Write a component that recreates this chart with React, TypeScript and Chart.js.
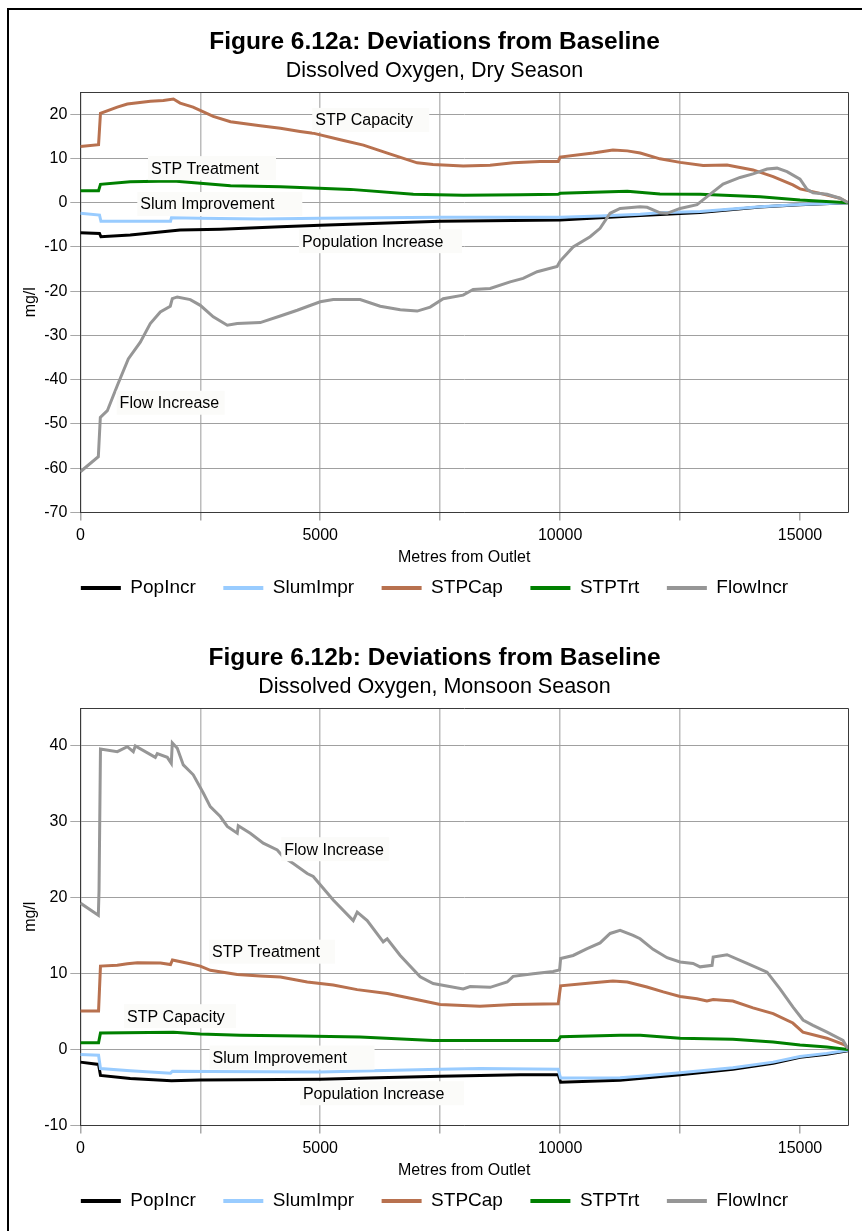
import React, { useEffect, useRef } from "react";
import { Chart, registerables } from "chart.js";
Chart.register(...registerables);

const FONT = '"Liberation Sans", Arial, Helvetica, sans-serif';

const SERIES_NAMES = ["PopIncr", "SlumImpr", "STPCap", "STPTrt", "FlowIncr"];
const SERIES_COLORS = ["#000000", "#99CCFF", "#B8714F", "#008000", "#969696"];
const SERIES_DRAW_ORDER = [5, 4, 3, 2, 1];

const X_MIN = 0;
const X_MAX = 16000;
const X_TICKS = [0, 2500, 5000, 7500, 10000, 12500, 15000];
const X_TICK_LABELS = ["0", "", "5000", "", "10000", "", "15000"];
const X_NO_GRID = 15000;

const X_TITLE = "Metres from Outlet";
const Y_TITLE = "mg/l";

// ---------- Figure 6.12a : Dry season ----------
const DRY_TITLE = "Figure 6.12a: Deviations from Baseline";
const DRY_SUBTITLE = "Dissolved Oxygen, Dry Season";
const DRY_Y_MIN = -70;
const DRY_Y_MAX = 25;
const DRY_Y_TICKS = [-70, -60, -50, -40, -30, -20, -10, 0, 10, 20];

const dryPopIncr = [[0,-6.8],[400,-6.95],[430,-7.7],[1040,-7.3],[2080,-6.2],[2920,-6.0],[4170,-5.45],[5000,-5.1],[7500,-4.2],[10000,-3.9],[11670,-2.9],[12920,-2.2],[14170,-1.0],[15000,-0.5],[16000,0]];
const drySlumImpr = [[0,-2.4],[400,-2.8],[430,-4.2],[1880,-4.2],[1900,-3.4],[2500,-3.5],[3750,-3.7],[5000,-3.55],[7500,-3.3],[10000,-3.3],[10830,-3.0],[11670,-2.6],[12080,-2.3],[12920,-2.0],[14170,-0.9],[15000,-0.4],[16000,0]];
const drySTPCap = [[0,12.7],[380,13.1],[420,20.2],[770,21.6],[980,22.3],[1460,22.9],[1730,23.1],[1940,23.4],[2080,22.5],[2350,21.6],[2770,19.5],[3130,18.3],[3750,17.4],[4170,16.8],[4580,16.1],[4850,15.7],[5420,14.2],[5900,13.0],[6400,11.2],[7020,9.0],[7350,8.6],[7980,8.3],[8540,8.45],[9020,9.0],[9580,9.3],[9960,9.3],[10000,10.3],[10690,11.2],[11100,11.9],[11400,11.7],[11670,11.2],[12080,9.9],[12500,9.1],[12980,8.4],[13480,8.5],[14020,7.4],[14440,5.9],[14850,4.0],[15000,3.1],[15420,2.1],[15830,1.0],[16000,0]];
const drySTPTrt = [[0,2.7],[380,2.7],[420,4.15],[1040,4.7],[1940,4.9],[2500,4.4],[3130,3.8],[4170,3.6],[4580,3.4],[5630,3.0],[6940,1.9],[7980,1.65],[9170,1.8],[9960,1.9],[10000,2.1],[11400,2.6],[12080,1.95],[12920,1.9],[14170,1.35],[15000,0.6],[16000,0]];
const dryFlowIncr = [[0,-60.8],[375,-57.4],[417,-48.5],[563,-47.0],[771,-41.3],[1000,-35.3],[1250,-31.5],[1458,-27.3],[1667,-24.7],[1875,-23.4],[1917,-21.7],[2021,-21.3],[2292,-21.9],[2500,-23.2],[2771,-25.8],[3063,-27.7],[3271,-27.3],[3750,-27.1],[4167,-25.6],[4521,-24.3],[5000,-22.4],[5271,-21.9],[5833,-21.9],[6250,-23.4],[6667,-24.2],[7021,-24.5],[7292,-23.6],[7563,-21.7],[7979,-20.9],[8188,-19.6],[8542,-19.4],[8958,-17.9],[9229,-17.1],[9521,-15.6],[9938,-14.4],[10000,-13.2],[10146,-11.5],[10271,-10.0],[10625,-7.7],[10833,-5.8],[11042,-2.4],[11250,-1.3],[11667,-0.9],[11813,-1.05],[12083,-2.3],[12229,-2.4],[12500,-1.3],[12854,-0.45],[13063,1.35],[13396,4.2],[13750,5.7],[14021,6.5],[14313,7.6],[14521,7.8],[14729,7.0],[15000,5.3],[15146,3.0],[15271,2.25],[15563,1.9],[15833,1.0],[16000,0]];

const DRY_LABELS = [
  { text: "STP Capacity", x: 4896, y: 18.7, w: 117 },
  { text: "STP Treatment", x: 1473, y: 7.8, w: 128 },
  { text: "Slum Improvement", x: 1250, y: -0.3, w: 165 },
  { text: "Population Increase", x: 4619, y: -8.7, w: 163 },
  { text: "Flow Increase", x: 819, y: -45.2, w: 108 },
];

// ---------- Figure 6.12b : Monsoon season ----------
const WET_TITLE = "Figure 6.12b: Deviations from Baseline";
const WET_SUBTITLE = "Dissolved Oxygen, Monsoon Season";
const WET_Y_MIN = -10;
const WET_Y_MAX = 45;
const WET_Y_TICKS = [-10, 0, 10, 20, 30, 40];

const wetPopIncr = [[0,-1.65],[380,-1.95],[420,-3.4],[1040,-3.8],[1900,-4.1],[2500,-4.0],[5000,-3.9],[6000,-3.75],[7500,-3.5],[9170,-3.3],[9960,-3.3],[10010,-4.3],[11250,-4.05],[12500,-3.3],[13600,-2.6],[14440,-1.8],[15000,-1.0],[15560,-0.6],[16000,-0.15]];
const wetSlumImpr = [[0,-0.65],[380,-0.75],[420,-2.5],[1040,-2.8],[1880,-3.1],[1920,-2.85],[2710,-2.9],[5000,-2.95],[6100,-2.8],[7500,-2.6],[8330,-2.5],[9960,-2.6],[10010,-3.75],[11250,-3.7],[11670,-3.5],[12500,-3.05],[13600,-2.4],[14440,-1.65],[15000,-0.9],[15560,-0.5],[16000,-0.1]];
const wetSTPCap = [[0,5.1],[380,5.1],[420,11.0],[770,11.1],[980,11.3],[1190,11.45],[1670,11.4],[1880,11.2],[1920,11.8],[2290,11.3],[2500,11.0],[2710,10.45],[3270,9.9],[3750,9.7],[4170,9.55],[4730,8.9],[5270,8.5],[5770,7.9],[6400,7.4],[7080,6.5],[7500,5.95],[8330,5.7],[9020,5.95],[9960,6.05],[10010,8.4],[10690,8.8],[11100,9.05],[11400,8.9],[11810,8.25],[12150,7.6],[12500,7.0],[12850,6.7],[13060,6.4],[13190,6.6],[13600,6.4],[14020,5.5],[14440,4.75],[14850,3.5],[15060,2.3],[15560,1.5],[15940,0.6],[16000,0.1]];
const wetSTPTrt = [[0,0.9],[380,0.9],[420,2.2],[1940,2.3],[2500,2.05],[3330,1.9],[4580,1.8],[5830,1.65],[7350,1.2],[9170,1.2],[9960,1.2],[10010,1.7],[11250,1.9],[11670,1.9],[12500,1.5],[13600,1.35],[14440,1.0],[15000,0.6],[15560,0.35],[16000,0]];
const wetFlowIncr = [[0,19.3],[375,17.7],[390,21.0],[420,39.6],[771,39.25],[979,39.9],[1104,39.25],[1146,40.0],[1563,38.5],[1604,39.0],[1813,38.5],[1896,37.7],[1917,40.4],[2021,39.7],[2146,37.5],[2354,36.2],[2563,33.8],[2708,32.0],[2917,30.7],[3063,29.4],[3271,28.5],[3292,29.5],[3542,28.5],[3813,27.2],[4104,26.3],[4229,25.4],[4438,24.5],[4729,23.2],[4854,22.8],[5271,19.7],[5688,17.0],[5771,18.1],[5979,17.0],[6313,14.2],[6396,14.6],[6667,12.4],[7083,9.6],[7354,8.7],[7979,8.0],[8125,8.3],[8542,8.2],[8896,8.9],[9021,9.65],[9438,10.0],[9854,10.3],[9990,10.5],[10010,12.0],[10271,12.4],[10563,13.3],[10833,14.05],[11042,15.3],[11250,15.7],[11521,15.05],[11667,14.6],[11938,13.2],[12229,12.1],[12500,11.55],[12771,11.35],[12917,10.9],[13167,11.1],[13190,12.2],[13479,12.5],[13896,11.35],[14313,10.2],[14583,8.0],[14854,5.6],[15063,3.9],[15271,3.2],[15563,2.3],[15896,1.2],[16000,0.1]];

const WET_LABELS = [
  { text: "Flow Increase", x: 4250, y: 26.4, w: 108 },
  { text: "STP Treatment", x: 2744, y: 12.9, w: 126 },
  { text: "STP Capacity", x: 973, y: 4.4, w: 112 },
  { text: "Slum Improvement", x: 2756, y: -1.05, w: 165 },
  { text: "Population Increase", x: 4640, y: -5.75, w: 164 },
];

const labelPlugin = {
  id: "seriesLabels",
  afterDatasetsDraw(chart: any, _args: any, opts: any) {
    const { ctx } = chart;
    const xs = chart.scales.x;
    const ys = chart.scales.y;
    ctx.save();
    ctx.font = `16px ${FONT}`;
    ctx.textBaseline = "middle";
    ctx.textAlign = "left";
    for (const l of opts.items || []) {
      const px = xs.getPixelForValue(l.x);
      const py = ys.getPixelForValue(l.y);
      ctx.fillStyle = "#fbfbf9";
      ctx.fillRect(px - 3, py - 12, l.w, 24);
      ctx.fillStyle = "#000";
      ctx.fillText(l.text, px, py + 1);
    }
    ctx.restore();
  },
};

const framePlugin = {
  id: "plotFrame",
  afterDatasetsDraw(chart: any) {
    const { ctx, chartArea } = chart;
    ctx.save();
    ctx.strokeStyle = "#3a3a3a";
    ctx.lineWidth = 1;
    ctx.beginPath();
    ctx.moveTo(chartArea.left, chartArea.top + 0.5);
    ctx.lineTo(chartArea.right + 0.5, chartArea.top + 0.5);
    ctx.lineTo(chartArea.right + 0.5, chartArea.bottom);
    ctx.stroke();
    ctx.restore();
  },
};

type Panel = {
  title: string;
  subtitle: string;
  yMin: number;
  yMax: number;
  yTicks: number[];
  series: number[][][];
  labels: { text: string; x: number; y: number; w: number }[];
  width: number;
  height: number;
};

function ChartPanel(p: Panel) {
  const ref = useRef<HTMLCanvasElement | null>(null);
  useEffect(() => {
    if (!ref.current) return;
    const datasets = SERIES_NAMES.map((name, i) => ({
      label: name,
      data: p.series[i].map(([x, y]) => ({ x, y })),
      borderColor: SERIES_COLORS[i],
      backgroundColor: SERIES_COLORS[i],
      borderWidth: 3,
      pointRadius: 0,
      tension: 0,
      fill: false,
      order: SERIES_DRAW_ORDER[i],
    }));
    const chart = new Chart(ref.current, {
      type: "line",
      data: { datasets },
      plugins: [labelPlugin, framePlugin],
      options: {
        animation: false,
        responsive: false,
        devicePixelRatio: 1,
        layout: { padding: { left: 12, right: 25, top: 0, bottom: 12.5 } },
        scales: {
          x: {
            type: "linear",
            min: X_MIN,
            max: X_MAX,
            afterBuildTicks: (s: any) => {
              s.ticks = X_TICKS.map((v) => ({ value: v }));
            },
            ticks: {
              autoSkip: false,
              maxRotation: 0,
              padding: 5,
              color: "#000",
              font: { size: 16, family: FONT },
              callback: (_v: any, i: number) => X_TICK_LABELS[i],
            },
            grid: {
              color: (c: any) => (c.tick && c.tick.value === X_NO_GRID ? "rgba(0,0,0,0)" : "#bcbcbc"),
              lineWidth: 1.5,
              tickColor: "#a8a8a8",
              tickLength: 8,
            },
            border: { color: "#3a3a3a", width: 1 },
            title: {
              display: true,
              text: X_TITLE,
              color: "#000",
              font: { size: 16, family: FONT },
              padding: { top: -2.1, bottom: -15.8 },
            },
          },
          y: {
            type: "linear",
            min: p.yMin,
            max: p.yMax,
            afterBuildTicks: (s: any) => {
              s.ticks = p.yTicks.map((v) => ({ value: v }));
            },
            ticks: {
              padding: 3,
              color: "#000",
              font: { size: 16, family: FONT },
              callback: (v: any) => String(v),
            },
            grid: {
              color: "#a0a0a0",
              lineWidth: 1,
              tickColor: "#a8a8a8",
              tickLength: 10,
            },
            border: { color: "#3a3a3a", width: 1 },
            title: {
              display: true,
              text: Y_TITLE,
              color: "#000",
              font: { size: 16, family: FONT },
              padding: { top: 0, bottom: 1 },
            },
          },
        },
        plugins: {
          title: {
            display: true,
            text: p.title,
            color: "#000",
            font: { size: 24.5, weight: "bold", family: FONT },
            padding: { top: 17.4, bottom: 0 },
          },
          subtitle: {
            display: true,
            text: p.subtitle,
            color: "#000",
            font: { size: 21.5, family: FONT },
            padding: { top: 1.3, bottom: 8.1 },
          },
          legend: {
            position: "bottom",
            labels: {
              color: "#000",
              font: { size: 19, family: FONT },
              boxWidth: 40,
              boxHeight: 4,
              padding: 27.5,
              generateLabels: (chart: any) =>
                Chart.defaults.plugins.legend.labels
                  .generateLabels(chart)
                  .map((l: any) => ({ ...l, lineWidth: 0, strokeStyle: l.fillStyle }))
                  .sort((a: any, b: any) => a.datasetIndex - b.datasetIndex),
            },
          },
          tooltip: { enabled: false },
          seriesLabels: { items: p.labels },
        } as any,
      } as any,
    });
    return () => chart.destroy();
  }, []);
  return <canvas ref={ref} width={p.width} height={p.height} style={{ display: "block", width: p.width, height: p.height }} />;
}

export default function App() {
  return (
    <div style={{ position: "absolute", left: 0, top: 0, width: 862, height: 1231, overflow: "hidden", background: "#fff" }}>
      <div style={{ position: "absolute", left: 7, top: 8, width: 900, height: 1260, border: "2px solid #000" }} />
      <div style={{ position: "absolute", left: 9, top: 10 }}>
        <ChartPanel
          title={DRY_TITLE}
          subtitle={DRY_SUBTITLE}
          yMin={DRY_Y_MIN}
          yMax={DRY_Y_MAX}
          yTicks={DRY_Y_TICKS}
          series={[dryPopIncr, drySlumImpr, drySTPCap, drySTPTrt, dryFlowIncr]}
          labels={DRY_LABELS}
          width={864}
          height={610}
        />
      </div>
      <div style={{ position: "absolute", left: 9, top: 626 }}>
        <ChartPanel
          title={WET_TITLE}
          subtitle={WET_SUBTITLE}
          yMin={WET_Y_MIN}
          yMax={WET_Y_MAX}
          yTicks={WET_Y_TICKS}
          series={[wetPopIncr, wetSlumImpr, wetSTPCap, wetSTPTrt, wetFlowIncr]}
          labels={WET_LABELS}
          width={864}
          height={607}
        />
      </div>
    </div>
  );
}
